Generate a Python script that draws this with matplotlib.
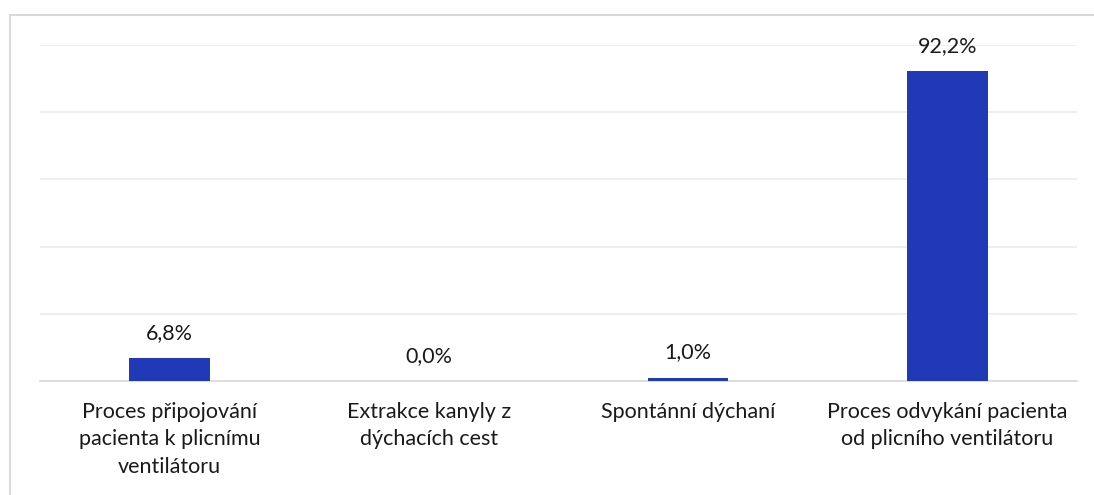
import matplotlib.pyplot as plt
from matplotlib.patches import Rectangle

categories = [
    "Proces připojování\npacienta k plicnímu\nventilátoru",
    "Extrakce kanyly z\ndýchacích cest",
    "Spontánní dýchaní",
    "Proces odvykání pacienta\nod plicního ventilátoru",
]
values = [6.8, 0.0, 1.0, 92.2]
value_labels = ["6,8%", "0,0%", "1,0%", "92,2%"]

plt.rcParams['font.family'] = ['Lato', 'DejaVu Sans']

fig = plt.figure(figsize=(10.94, 4.95), dpi=100)
ax = fig.add_axes([40 / 1094, 1 - 381 / 495, 1037 / 1094, 336 / 495])

# outer frame of the chart area
frame = Rectangle((10 / 1094, -0.05), 1.2, 1 - 15 / 495 + 0.05, transform=fig.transFigure,
                  fill=False, edgecolor='#d9d9d9', linewidth=1.5, zorder=0)
fig.patches.append(frame)

x = range(len(categories))
bars = ax.bar(x, values, width=0.31, color='#1f39b7', zorder=3)

for i, v in enumerate(values):
    ax.annotate(value_labels[i], (i, v), xytext=(0, 11), textcoords='offset points',
                ha='center', va='bottom', fontsize=15.5, color='#1a1a1a')

ax.set_xlim(-0.5, len(categories) - 0.5)
ax.set_ylim(0, 100)
ax.set_yticks([0, 20, 40, 60, 80, 100])
ax.set_yticklabels([])
ax.tick_params(axis='y', length=0)
ax.grid(axis='y', color='#ebebeb', linewidth=1.2, zorder=0)
ax.set_axisbelow(True)

ax.set_xticks(list(x))
ax.set_xticklabels(categories, fontsize=15.5, color='#1a1a1a', linespacing=1.47)
ax.tick_params(axis='x', length=0, pad=15)

for side in ['top', 'right', 'left']:
    ax.spines[side].set_visible(False)
ax.spines['bottom'].set_color('#d9d9d9')
ax.spines['bottom'].set_linewidth(1.2)

fig.savefig('out.png', dpi=100)
